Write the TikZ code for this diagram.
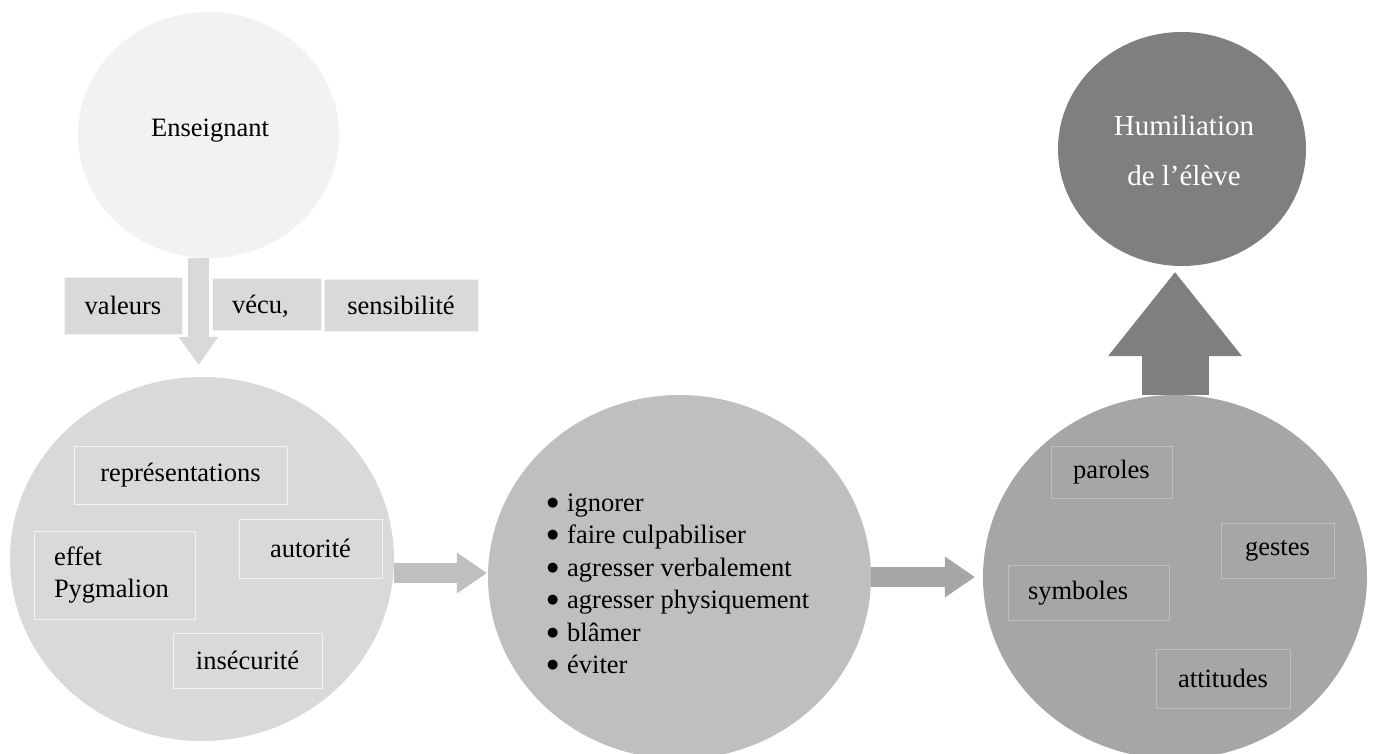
\documentclass[tikz,border=0pt]{standalone}
\usepackage{fontspec}
\setmainfont{Liberation Serif}
\newfontfamily\djv{DejaVu Sans}
\usetikzlibrary{shapes.geometric,arrows.meta,calc}
\definecolor{gF2}{HTML}{F2F2F2}
\definecolor{gD9}{HTML}{D9D9D9}
\definecolor{gBF}{HTML}{BFBFBF}
\definecolor{gA6}{HTML}{A6A6A6}
\definecolor{g7F}{HTML}{7F7F7F}
\newcommand{\bul}{\makebox[20pt][l]{\raisebox{5pt}{\djv\fontsize{13}{13}\selectfont ●}}}
\begin{document}
\begin{tikzpicture}[x=1pt,y=-1pt,
  every node/.style={font=\fontsize{26.5}{32.5}\selectfont},
  blob/.style={ellipse, inner sep=0pt, draw=none},
  box/.style={rectangle, line width=1pt, inner sep=0pt, align=center},
  boxA/.style={fill=gD9, draw=gF2},
  boxB/.style={fill=gA6, draw=gBF},
  thinarrow/.style={line width=20pt, -{Triangle[length=30pt,width=41pt,line width=0pt]}},
]
\useasboundingbox (0,0) rectangle (1374,753);
\clip (0,0) rectangle (1374,753);
\fill[white] (0,0) rectangle (1374,753);

% circles
\node[blob, fill=gF2, minimum width=261pt, minimum height=246pt] (ens) at (208.5,135) {};
\node (ensT) at (210,130.5) {Enseignant};
\node[blob, fill=gD9, minimum width=384pt, minimum height=364pt] (c2) at (202,559) {};
\node[blob, fill=gBF, minimum width=383pt, minimum height=364pt] (c3) at (679.5,577) {};
\node[blob, fill=gA6, minimum width=384pt, minimum height=364pt] (c4) at (1175,577) {};
\node[blob, fill=g7F, minimum width=248pt, minimum height=234pt] (c5) at (1182,149) {};
\node[text=white, align=center, font=\fontsize{29}{50}\selectfont] (c5T) at (1184,151) {Humiliation\\de l’élève};

% arrows
\draw[gD9, line width=21pt, shorten >=12pt, -{Triangle[length=28pt,width=40pt,line width=0pt]}]
  ([xshift=-10pt]ens.south) -- ([xshift=-10pt]ens.south |- c2.north);
\draw[gBF, thinarrow, shorten >=1pt] ([yshift=-14pt]c2.east) -- ([yshift=-14pt]c2.east -| c3.west);
\draw[gA6, thinarrow, shorten >=8pt] (c3.east) -- (c3.east -| c4.west);
\draw[g7F, line width=67pt, shorten >=6pt, -{Triangle[length=84pt,width=134pt,line width=0pt]}]
  (c4.north) -- (c4.north |- c5.south);

% top boxes
\node[box, boxA, minimum width=118pt, minimum height=57pt] (val) at (123,305.5) {valeurs};
\node[box, boxA, minimum width=109pt, minimum height=52pt] (vec) at (266.5,304) {\makebox[69pt][l]{\raisebox{0pt}[\height][0pt]{vécu,}}};
\node[box, boxA, minimum width=154pt, minimum height=52pt] (sen) at (401,305) {sensibilité};

% boxes in c2
\node[box, boxA, minimum width=213pt, minimum height=58pt] (rep) at (180.5,475) {représentations};
\node[box, boxA, align=left, minimum width=161pt, minimum height=88pt] (eff) at (114.5,575) {effet\\\makebox[121pt][l]{Pygmalion}};
\node[box, boxA, minimum width=143pt, minimum height=59pt] (aut) at (310.5,548.5) {autorité};
\node[box, boxA, minimum width=149pt, minimum height=55pt] (ins) at (247.5,660.5) {insécurité};

% list in c3
\node[anchor=west, align=left, inner sep=0pt] (lst) at (547,584)
  {\bul ignorer\\
   \bul faire culpabiliser\\
   \bul agresser verbalement\\
   \bul agresser physiquement\\
   \bul blâmer\\
   \bul éviter};

% boxes in c4
\node[box, boxB, minimum width=121pt, minimum height=52pt] (par) at (1111.5,472) {paroles};
\node[box, boxB, minimum width=113pt, minimum height=55pt] (ges) at (1277.5,550.5) {gestes};
\node[box, boxB, minimum width=161pt, minimum height=55pt] (sym) at (1088.5,593) {\makebox[121pt][l]{symboles}};
\node[box, boxB, minimum width=134pt, minimum height=59pt] (att) at (1223,678.5) {attitudes};
\end{tikzpicture}
\end{document}
